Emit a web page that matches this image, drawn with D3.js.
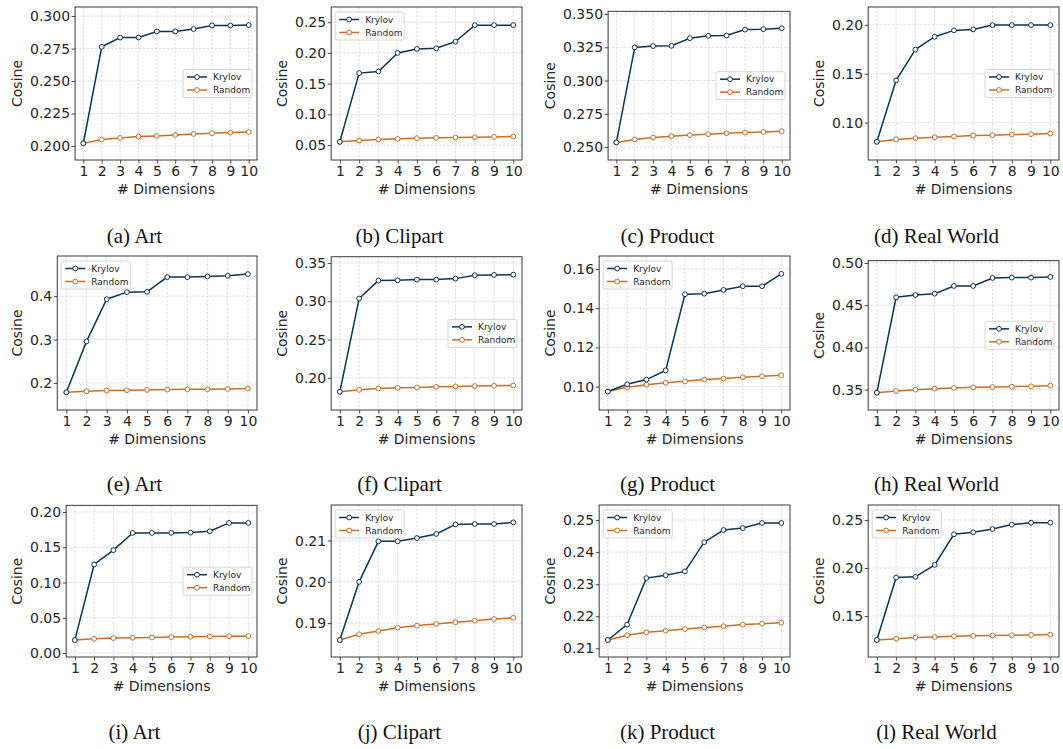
<!DOCTYPE html>
<html><head><meta charset="utf-8">
<script src="https://cdn.jsdelivr.net/npm/d3@7"></script>
<style>body{margin:0;background:#fff}svg{display:block}</style>
</head><body>
<svg id="chart" width="1063" height="749"></svg>
<script>
// ---------------- data ----------------
const dimensions = [1, 2, 3, 4, 5, 6, 7, 8, 9, 10];
const seriesNames = ["Krylov", "Random"];
const captions = ["(a) Art", "(b) Clipart", "(c) Product", "(d) Real World",
                  "(e) Art", "(f) Clipart", "(g) Product", "(h) Real World",
                  "(i) Art", "(j) Clipart", "(k) Product", "(l) Real World"];
const krylov = [
  [0.2021, 0.2763, 0.2835, 0.2835, 0.2882, 0.2882, 0.2900, 0.2928, 0.2928, 0.2931],
  [0.0554, 0.1672, 0.1699, 0.2000, 0.2065, 0.2075, 0.2183, 0.2452, 0.2452, 0.2452],
  [0.2535, 0.3249, 0.3259, 0.3261, 0.3318, 0.3336, 0.3338, 0.3383, 0.3386, 0.3393],
  [0.0804, 0.1432, 0.1747, 0.1878, 0.1943, 0.1953, 0.1997, 0.1997, 0.1997, 0.1997],
  [0.1784, 0.2958, 0.3931, 0.4093, 0.4100, 0.4440, 0.4440, 0.4456, 0.4471, 0.4510],
  [0.1818, 0.3036, 0.3270, 0.3274, 0.3283, 0.3283, 0.3296, 0.3340, 0.3344, 0.3348],
  [0.0975, 0.1012, 0.1036, 0.1083, 0.1471, 0.1474, 0.1493, 0.1512, 0.1512, 0.1575],
  [0.3464, 0.4594, 0.4621, 0.4637, 0.4728, 0.4728, 0.4823, 0.4827, 0.4827, 0.4835],
  [0.0184, 0.1256, 0.1459, 0.1704, 0.1704, 0.1704, 0.1708, 0.1727, 0.1845, 0.1845],
  [0.1859, 0.2000, 0.2098, 0.2098, 0.2106, 0.2116, 0.2139, 0.2140, 0.2140, 0.2144],
  [0.2126, 0.2174, 0.2319, 0.2328, 0.2340, 0.2431, 0.2469, 0.2475, 0.2491, 0.2491],
  [0.1251, 0.1901, 0.1908, 0.2033, 0.2351, 0.2372, 0.2406, 0.2452, 0.2472, 0.2472]
];
const random = [
  [0.2021, 0.2049, 0.2062, 0.2072, 0.2077, 0.2085, 0.2093, 0.2098, 0.2103, 0.2108],
  [0.0554, 0.0575, 0.0591, 0.0602, 0.0613, 0.0618, 0.0624, 0.0629, 0.0634, 0.0640],
  [0.2535, 0.2557, 0.2572, 0.2582, 0.2590, 0.2597, 0.2604, 0.2609, 0.2614, 0.2619],
  [0.0804, 0.0828, 0.0841, 0.0851, 0.0858, 0.0868, 0.0872, 0.0878, 0.0882, 0.0889],
  [0.1784, 0.1807, 0.1822, 0.1830, 0.1838, 0.1846, 0.1853, 0.1853, 0.1861, 0.1869],
  [0.1818, 0.1844, 0.1861, 0.1870, 0.1874, 0.1883, 0.1887, 0.1892, 0.1896, 0.1900],
  [0.0975, 0.0997, 0.1010, 0.1020, 0.1027, 0.1036, 0.1041, 0.1048, 0.1053, 0.1058],
  [0.3464, 0.3484, 0.3500, 0.3512, 0.3520, 0.3527, 0.3531, 0.3535, 0.3539, 0.3547],
  [0.0184, 0.0202, 0.0212, 0.0216, 0.0221, 0.0226, 0.0231, 0.0235, 0.0238, 0.0240],
  [0.1859, 0.1873, 0.1881, 0.1889, 0.1894, 0.1898, 0.1902, 0.1906, 0.1910, 0.1913],
  [0.2126, 0.2141, 0.2150, 0.2155, 0.2160, 0.2165, 0.2169, 0.2174, 0.2177, 0.2180],
  [0.1251, 0.1265, 0.1276, 0.1283, 0.1290, 0.1294, 0.1297, 0.1300, 0.1304, 0.1307]
];
const yDomains = [
  [0.1892, 0.3070], [0.0258, 0.2747], [0.2403, 0.3520], [0.0618, 0.2182],
  [0.1375, 0.4927], [0.1580, 0.3582], [0.0881, 0.1666], [0.3259, 0.5028],
  [-0.0056, 0.2094], [0.1818, 0.2186], [0.2073, 0.2547], [0.1074, 0.2656]
];
const yTicks = [
  [0.200, 0.225, 0.250, 0.275, 0.300],
  [0.05, 0.10, 0.15, 0.20, 0.25],
  [0.250, 0.275, 0.300, 0.325, 0.350],
  [0.10, 0.15, 0.20],
  [0.2, 0.3, 0.4],
  [0.20, 0.25, 0.30, 0.35],
  [0.10, 0.12, 0.14, 0.16],
  [0.35, 0.40, 0.45, 0.50],
  [0.00, 0.05, 0.10, 0.15, 0.20],
  [0.19, 0.20, 0.21],
  [0.21, 0.22, 0.23, 0.24, 0.25],
  [0.15, 0.20, 0.25]
];
const yDecimals = [3, 2, 3, 2, 1, 2, 2, 2, 2, 2, 2, 2];
const legendLoc = ["right", "upper", "right", "right",
                   "upper", "right", "upper", "right",
                   "right", "upper", "upper", "upper"];

// ---------------- style / layout ----------------
const colors = ["#0e3452", "#cc6d28"];
const FONT = "'DejaVu Sans', sans-serif";
const colRight = [257, 522, 790, 1059];
const rowTop = [7, 256, 505];
const rowBottom = [160, 410, 657];
const captionBase = [243, 491, 739];
const IMG_W = 249;

const svg = d3.select("#chart");

function measure(str, size, family) {
  const t = svg.append("text").attr("font-family", family).attr("font-size", size).text(str);
  const w = t.node().getComputedTextLength();
  t.remove();
  return w;
}

for (let i = 0; i < 12; i++) {
  const r = Math.floor(i / 4), c = i % 4;
  const fmt = d3.format(`.${yDecimals[i]}f`);
  const tickW = d3.max(yTicks[i], v => measure(fmt(v), 14, FONT));
  const fr = colRight[c], fb = rowBottom[r];
  const imgL = fr - IMG_W;
  const fl = imgL + 27 + tickW;
  const [d0, d1] = yDomains[i];
  const tmax = d3.max(yTicks[i]);
  const frac = (tmax - d0) / (d1 - d0);
  let ft = rowTop[r];
  if (fb - (fb - ft) * frac - 7 < rowTop[r]) {
    const h = (fb - rowTop[r] - 7) / frac;
    ft = fb - h;
  }

  const x = d3.scaleLinear().domain([0.55, 10.45]).range([fl, fr]);
  const y = d3.scaleLinear().domain(yDomains[i]).range([fb, ft]);
  const g = svg.append("g");

  // grid
  const grid = g.append("g").attr("stroke", "#d4d4d4").attr("stroke-width", 0.8)
    .attr("stroke-dasharray", "2.5,1.5");
  grid.selectAll(".gx").data(dimensions).join("line")
    .attr("x1", d => x(d)).attr("x2", d => x(d)).attr("y1", ft).attr("y2", fb);
  grid.selectAll(".gy").data(yTicks[i]).join("line")
    .attr("x1", fl).attr("x2", fr).attr("y1", d => y(d)).attr("y2", d => y(d));

  // axes
  const ax = g.append("g").attr("transform", `translate(0,${fb})`)
    .call(d3.axisBottom(x).tickValues(dimensions).tickFormat(d3.format("d"))
      .tickSize(3.5).tickPadding(3).tickSizeOuter(0));
  const ay = g.append("g").attr("transform", `translate(${fl},0)`)
    .call(d3.axisLeft(y).tickValues(yTicks[i]).tickFormat(fmt)
      .tickSize(3.5).tickPadding(1.5).tickSizeOuter(0));
  [ax, ay].forEach(a => {
    a.select(".domain").remove();
    a.selectAll("line").attr("stroke", "#333").attr("stroke-width", 0.9);
    a.selectAll("text").attr("font-family", FONT).attr("font-size", 14).attr("fill", "#262626");
  });

  // frame
  g.append("rect").attr("x", fl).attr("y", ft).attr("width", fr - fl).attr("height", fb - ft)
    .attr("fill", "none").attr("stroke", "#3a3a3a").attr("stroke-width", 1);

  // series
  const line = d3.line().x((d, k) => x(dimensions[k])).y(d => y(d));
  [random[i], krylov[i]].forEach((vals, s) => {
    const col = s === 0 ? colors[1] : colors[0];
    g.append("path").datum(vals).attr("d", line).attr("fill", "none")
      .attr("stroke", col).attr("stroke-width", 1.5);
    g.selectAll(null).data(vals).join("circle")
      .attr("cx", (d, k) => x(dimensions[k])).attr("cy", d => y(d)).attr("r", 2.4)
      .attr("fill", "#fff").attr("stroke", col).attr("stroke-width", 1);
  });

  // axis labels
  g.append("text").attr("transform", `translate(${imgL + 14},${(ft + fb) / 2}) rotate(-90)`)
    .attr("text-anchor", "middle").attr("font-family", FONT).attr("font-size", 14)
    .attr("fill", "#262626").text("Cosine");
  g.append("text").attr("x", (fl + fr) / 2).attr("y", fb + 34)
    .attr("text-anchor", "middle").attr("font-family", FONT).attr("font-size", 14)
    .attr("fill", "#262626").text("# Dimensions");

  // legend
  const LW = 69, LH = 28;
  let bx, by;
  if (legendLoc[i] === "upper") { bx = fl + 4; by = ft + 5; }
  else { bx = fr - 5 - LW; by = (ft + fb) / 2 - LH / 2; }
  const lg = g.append("g").attr("transform", `translate(${bx},${by})`);
  lg.append("rect").attr("width", LW).attr("height", LH).attr("rx", 2)
    .attr("fill", "#fff").attr("fill-opacity", 0.85).attr("stroke", "#cccccc").attr("stroke-width", 0.8);
  seriesNames.forEach((name, s) => {
    const yy = 7.5 + s * 13;
    lg.append("line").attr("x1", 4).attr("x2", 24).attr("y1", yy).attr("y2", yy)
      .attr("stroke", colors[s]).attr("stroke-width", 1.5);
    lg.append("circle").attr("cx", 14).attr("cy", yy).attr("r", 2.4)
      .attr("fill", "#fff").attr("stroke", colors[s]).attr("stroke-width", 1);
    lg.append("text").attr("x", 30).attr("y", yy + 3.2).attr("font-family", FONT)
      .attr("font-size", 9).attr("fill", "#262626").text(name);
  });

  // caption
  svg.append("text").attr("x", imgL + IMG_W / 2 + 2).attr("y", captionBase[r])
    .attr("text-anchor", "middle").attr("font-family", "'Liberation Serif', 'Times New Roman', serif")
    .attr("font-size", 21).attr("fill", "#111").text(captions[i]);
}
</script>
</body></html>
